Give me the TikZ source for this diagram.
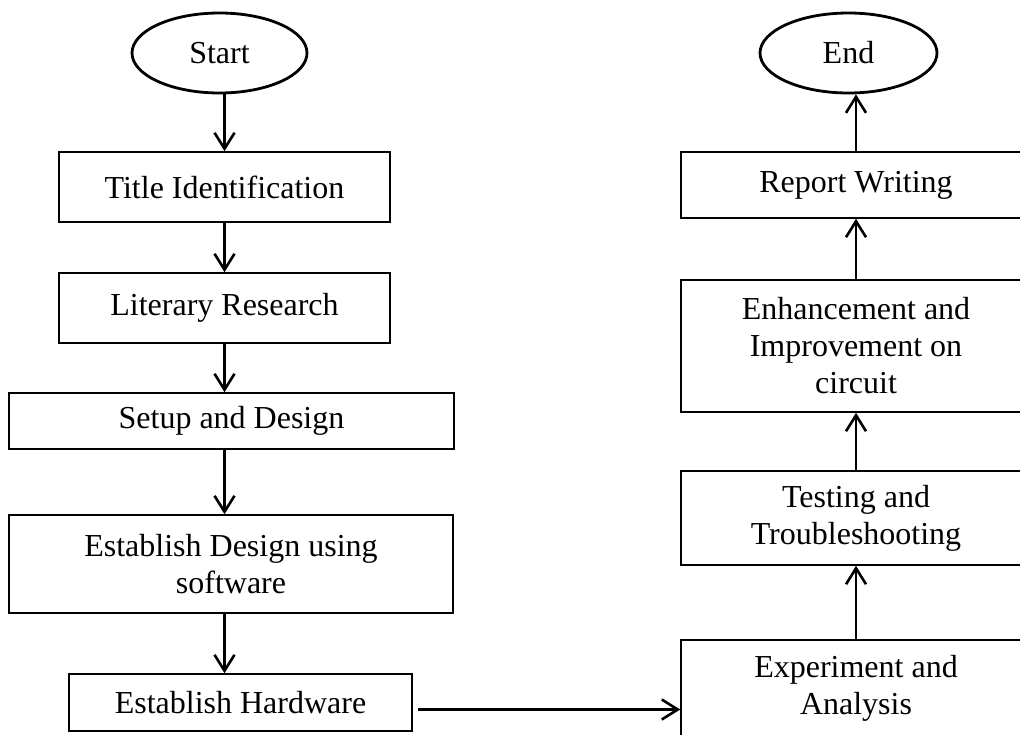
\documentclass[tikz,border=0pt]{standalone}
\usepackage{fontspec}
\setmainfont{Liberation Serif}
\usetikzlibrary{shapes.geometric,arrows.meta}
\tikzset{
  proc/.style={draw,line width=0.8pt,inner sep=0,align=center,font=\fontsize{16}{18.5}\selectfont},
  term/.style={draw,ellipse,line width=1.4pt,inner sep=0,font=\fontsize{16}{18.5}\selectfont},
  arr/.style={line width=1.3pt,-{Straight Barb[length=8pt,width=10pt]}}
}
\begin{document}
\begin{tikzpicture}[x=0.5pt,y=-0.5pt]
  \path[use as bounding box,clip] (0,0) rectangle (1020,734);
  \node[term,minimum width=87.5pt,minimum height=40pt] (start) at (219.5,53) {Start};
  \node[proc,minimum width=165.5pt,minimum height=35pt] (title) at (224.5,187) {Title Identification};
  \node[proc,minimum width=165.5pt,minimum height=35pt] (literary) at (224.5,308) {Literary Research};
  \node[proc,minimum width=222.5pt,minimum height=28pt] (setup) at (231.5,421) {Setup and Design};
  \node[proc,minimum width=222pt,minimum height=49pt] (software) at (231,564) {Establish Design using\\software};
  \node[proc,minimum width=171.5pt,minimum height=28.5pt] (hardware) at (240.5,702.5) {Establish Hardware};
  \node[term,minimum width=88.5pt,minimum height=40pt] (end) at (848.5,53) {End};
  \node[proc,minimum width=175pt,minimum height=33pt] (report) at (856,185) {Report Writing};
  \node[proc,minimum width=175pt,minimum height=66pt] (enhance) at (856,346) {Enhancement and\\Improvement on\\circuit};
  \node[proc,minimum width=175pt,minimum height=47pt] (testing) at (856,518) {Testing and\\Troubleshooting};
  \node[proc,minimum width=175pt,minimum height=48pt] (experiment) at (856,688) {Experiment and\\Analysis};
  \draw[arr] (title.north |- start.south) -- (title.north);
  \foreach \a/\b in {title/literary,literary/setup,setup/software,software/hardware}
    \draw[arr] (title.south |- \a.south) -- (title.south |- \b.north);
  \coordinate (hw) at ([yshift=-3.5pt]hardware.east);
  \draw[arr,shorten <=2.5pt] (hw) -- (hw -| experiment.west);
  \foreach \a/\b in {experiment/testing,testing/enhance,enhance/report}
    \draw[arr] (\a.north) -- (\b.south);
  \draw[arr] (report.north) -- (report.north |- end.south);
\end{tikzpicture}
\end{document}
